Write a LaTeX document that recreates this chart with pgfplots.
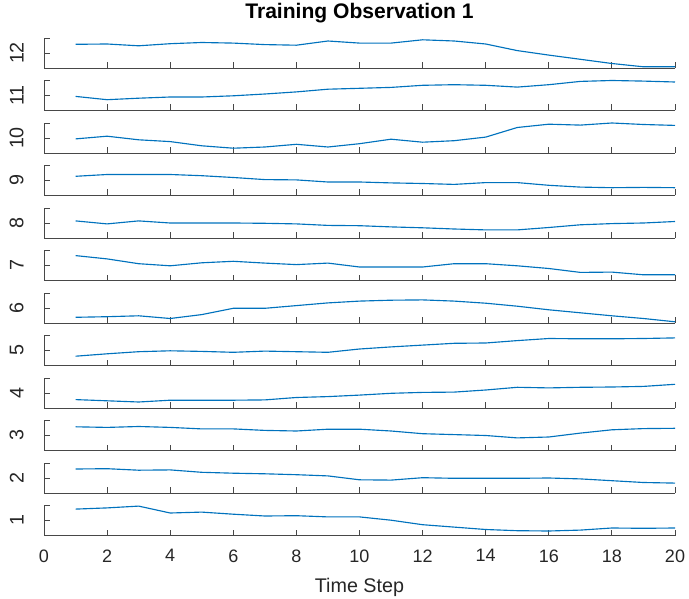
\documentclass[border=0pt]{standalone}
\usepackage{pgfplots}
\pgfplotsset{compat=1.18}
\usepackage{fontspec}
\setmainfont{Liberation Sans}
\definecolor{mblue}{RGB}{0,114,189}
\definecolor{axgray}{RGB}{38,38,38}
\pgfplotsset{
  panel/.style={
    scale only axis, width=473.25pt, height=22.5pt,
    anchor=south west,
    xmin=0, xmax=20, ymin=0, ymax=1,
    axis lines=left, axis line style={-, axgray!85, line width=0.65pt},
    xtick={0,2,...,20}, ytick={0.5,1},
    xticklabels={}, yticklabels={},
    tick align=inside, major tick length=4.5pt,
    tick style={axgray!85, line width=0.65pt},
    ylabel style={at={(axis description cs:-0.032,0.5)}, anchor=south, inner sep=0pt,
      font=\fontsize{14.8}{16}\selectfont, text=axgray},
    clip=false,
  },
  ser/.style={mblue, line width=0.85pt, mark=none},
}
\begin{document}
\begin{tikzpicture}
\path[use as bounding box] (0,0) rectangle (516.75pt,-449.25pt);
% panel 12
\begin{axis}[panel, at={(33pt,-51pt)}, ylabel={12},
  title={Training Observation 1},
  title style={at={(axis description cs:0.5,1)}, anchor=base, yshift=8.25pt, inner sep=0pt,
    font=\fontsize{15.8}{18}\selectfont\bfseries}]
\addplot[ser] coordinates {(1,0.79) (2,0.80) (3,0.74) (4,0.81) (5,0.85) (6,0.83) (7,0.78) (8,0.76) (9,0.90) (10,0.83) (11,0.83) (12,0.94) (13,0.90) (14,0.80) (15,0.58) (16,0.43) (17,0.29) (18,0.15) (19,0.04) (20,0.04)};
\end{axis}
% panel 11
\begin{axis}[panel, at={(33pt,-82.875pt)}, ylabel={11}]
\addplot[ser] coordinates {(1,0.47) (2,0.36) (3,0.41) (4,0.45) (5,0.45) (6,0.49) (7,0.55) (8,0.62) (9,0.71) (10,0.74) (11,0.77) (12,0.84) (13,0.86) (14,0.84) (15,0.78) (16,0.86) (17,0.97) (18,1.0) (19,0.98) (20,0.95)};
\end{axis}
% panel 10
\begin{axis}[panel, at={(33pt,-114.75pt)}, ylabel={10}]
\addplot[ser] coordinates {(1,0.47) (2,0.56) (3,0.44) (4,0.38) (5,0.24) (6,0.16) (7,0.20) (8,0.29) (9,0.20) (10,0.31) (11,0.46) (12,0.36) (13,0.41) (14,0.53) (15,0.85) (16,0.96) (17,0.93) (18,1.0) (19,0.95) (20,0.92)};
\end{axis}
% panel 9
\begin{axis}[panel, at={(33pt,-146.625pt)}, ylabel={9}]
\addplot[ser] coordinates {(1,0.64) (2,0.70) (3,0.70) (4,0.70) (5,0.66) (6,0.60) (7,0.53) (8,0.52) (9,0.45) (10,0.45) (11,0.42) (12,0.40) (13,0.37) (14,0.43) (15,0.43) (16,0.34) (17,0.28) (18,0.26) (19,0.27) (20,0.26)};
\end{axis}
% panel 8
\begin{axis}[panel, at={(33pt,-178.5pt)}, ylabel={8}]
\addplot[ser] coordinates {(1,0.57) (2,0.47) (3,0.57) (4,0.50) (5,0.50) (6,0.50) (7,0.49) (8,0.47) (9,0.42) (10,0.41) (11,0.37) (12,0.34) (13,0.30) (14,0.27) (15,0.27) (16,0.35) (17,0.44) (18,0.48) (19,0.50) (20,0.55)};
\end{axis}
% panel 7
\begin{axis}[panel, at={(33pt,-210.375pt)}, ylabel={7}]
\addplot[ser] coordinates {(1,0.83) (2,0.72) (3,0.56) (4,0.49) (5,0.59) (6,0.64) (7,0.58) (8,0.53) (9,0.58) (10,0.45) (11,0.45) (12,0.45) (13,0.56) (14,0.56) (15,0.49) (16,0.40) (17,0.27) (18,0.28) (19,0.19) (20,0.19)};
\end{axis}
% panel 6
\begin{axis}[panel, at={(33pt,-242.25pt)}, ylabel={6}]
\addplot[ser] coordinates {(1,0.19) (2,0.21) (3,0.24) (4,0.15) (5,0.28) (6,0.49) (7,0.49) (8,0.58) (9,0.67) (10,0.73) (11,0.76) (12,0.77) (13,0.73) (14,0.66) (15,0.56) (16,0.44) (17,0.34) (18,0.24) (19,0.15) (20,0.04)};
\end{axis}
% panel 5
\begin{axis}[panel, at={(33pt,-274.125pt)}, ylabel={5}]
\addplot[ser] coordinates {(1,0.31) (2,0.39) (3,0.46) (4,0.49) (5,0.47) (6,0.44) (7,0.48) (8,0.46) (9,0.44) (10,0.55) (11,0.62) (12,0.68) (13,0.74) (14,0.75) (15,0.83) (16,0.90) (17,0.89) (18,0.89) (19,0.90) (20,0.92)};
\end{axis}
% panel 4
\begin{axis}[panel, at={(33pt,-306pt)}, ylabel={4}]
\addplot[ser] coordinates {(1,0.28) (2,0.24) (3,0.20) (4,0.26) (5,0.26) (6,0.26) (7,0.27) (8,0.35) (9,0.38) (10,0.43) (11,0.49) (12,0.52) (13,0.53) (14,0.60) (15,0.69) (16,0.67) (17,0.69) (18,0.70) (19,0.72) (20,0.79)};
\end{axis}
% panel 3
\begin{axis}[panel, at={(33pt,-337.875pt)}, ylabel={3}]
\addplot[ser] coordinates {(1,0.79) (2,0.77) (3,0.80) (4,0.77) (5,0.72) (6,0.72) (7,0.67) (8,0.65) (9,0.71) (10,0.71) (11,0.65) (12,0.56) (13,0.53) (14,0.50) (15,0.42) (16,0.45) (17,0.58) (18,0.69) (19,0.73) (20,0.74)};
\end{axis}
% panel 2
\begin{axis}[panel, at={(33pt,-369.75pt)}, ylabel={2}]
\addplot[ser] coordinates {(1,0.80) (2,0.81) (3,0.76) (4,0.77) (5,0.69) (6,0.66) (7,0.64) (8,0.61) (9,0.57) (10,0.44) (11,0.43) (12,0.51) (13,0.49) (14,0.49) (15,0.49) (16,0.50) (17,0.47) (18,0.41) (19,0.35) (20,0.33)};
\end{axis}
% panel 1
\begin{axis}[panel, at={(33pt,-401.625pt)}, ylabel={1},
  xticklabels={0,2,4,6,8,10,12,14,16,18,20},
  /pgf/number format/assume math mode=true,
  xticklabel style={yshift=-7pt, font=\fontsize{13.5}{16}\selectfont, text=axgray},
  xlabel={Time Step},
  xlabel style={at={(axis description cs:0.5,0)}, anchor=north, inner sep=0pt, yshift=-32pt,
    font=\fontsize{14.8}{16}\selectfont, text=axgray}]
\addplot[ser] coordinates {(1,0.88) (2,0.92) (3,0.98) (4,0.75) (5,0.78) (6,0.71) (7,0.65) (8,0.66) (9,0.62) (10,0.62) (11,0.51) (12,0.36) (13,0.28) (14,0.20) (15,0.16) (16,0.15) (17,0.18) (18,0.25) (19,0.24) (20,0.25)};
\end{axis}
\end{tikzpicture}
\end{document}
